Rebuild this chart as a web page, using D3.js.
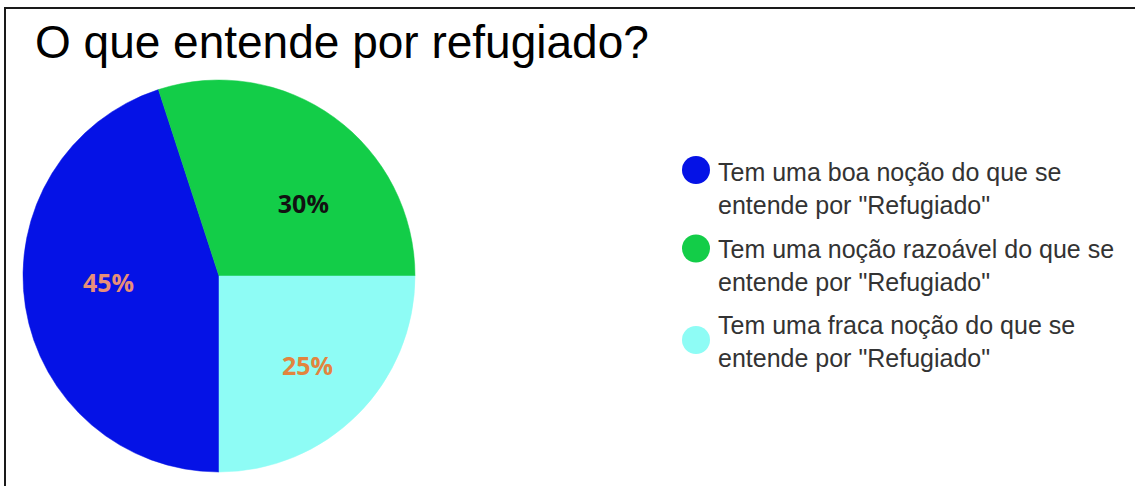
<!DOCTYPE html>
<html>
<head>
<meta charset="utf-8">
<script src="https://cdn.jsdelivr.net/npm/d3@7"></script>
<style>
  html, body { margin: 0; padding: 0; background: #fff; }
  svg { display: block; }
</style>
</head>
<body>
<svg id="chart" width="1135" height="486"></svg>
<script>
// Survey answers: "O que entende por refugiado?"
const categories = [
  'Tem uma boa noção do que se entende por "Refugiado"',
  'Tem uma noção razoável do que se entende por "Refugiado"',
  'Tem uma fraca noção do que se entende por "Refugiado"'
];
const legendLines = [
  ['Tem uma boa noção do que se', 'entende por "Refugiado"'],
  ['Tem uma noção razoável do que se', 'entende por "Refugiado"'],
  ['Tem uma fraca noção do que se', 'entende por "Refugiado"']
];
const values = [45, 30, 25];
const valueLabels = ['45%', '30%', '25%'];
const title = 'O que entende por refugiado?';

// Styling and layout
const sliceColors = ['#0512e6', '#13cd48', '#8efcf5'];
const labelColors = ['#e98f78', '#111111', '#e2843e'];
const labelNudge = [[6, -11], [15, 23], [5, 7]];
const swatchDy = [-11, -9, 6];

const svg = d3.select('#chart');

// Frame lines along top and left
svg.append('line').attr('x1', 5).attr('x2', 1135).attr('y1', 8).attr('y2', 8)
  .attr('stroke', '#1a1a1a').attr('stroke-width', 2);
svg.append('line').attr('x1', 5).attr('x2', 5).attr('y1', 7).attr('y2', 486)
  .attr('stroke', '#1a1a1a').attr('stroke-width', 2);

// Title
svg.append('text')
  .attr('x', 35).attr('y', 58)
  .attr('font-family', '"Liberation Sans", Arial, sans-serif')
  .attr('font-size', 46)
  .attr('fill', '#000')
  .text(title);

// Pie
const cx = 219, cy = 276, R = 196;
const color = d3.scaleOrdinal().domain(categories).range(sliceColors);
const pie = d3.pie().sort(null).value(d => d)
  .startAngle(Math.PI).endAngle(3 * Math.PI);
const arcs = pie(values);
const arc = d3.arc().innerRadius(0).outerRadius(R);
const labelArc = d3.arc().innerRadius(118).outerRadius(118);

const g = svg.append('g').attr('transform', `translate(${cx},${cy})`);
g.selectAll('path.slice')
  .data(arcs)
  .join('path')
  .attr('class', 'slice')
  .attr('d', arc)
  .attr('fill', (d, i) => color(categories[i]))
  .attr('stroke', (d, i) => color(categories[i]))
  .attr('stroke-width', 0.5);

g.selectAll('text.pct')
  .data(arcs)
  .join('text')
  .attr('class', 'pct')
  .attr('transform', (d, i) => {
    const [x, y] = labelArc.centroid(d);
    return `translate(${x + labelNudge[i][0]},${y + labelNudge[i][1]})`;
  })
  .attr('text-anchor', 'middle')
  .attr('dy', '0.36em')
  .attr('font-family', '"Open Sans", "DejaVu Sans", sans-serif')
  .attr('font-weight', 700)
  .attr('font-size', 25)
  .attr('fill', (d, i) => labelColors[i])
  .text((d, i) => valueLabels[i]);

// Legend
const legendX = 718, legendY0 = 181, itemStep = 76.5, lineStep = 33;
const legend = svg.append('g');
const items = legend.selectAll('g.item')
  .data(categories)
  .join('g')
  .attr('class', 'item')
  .attr('transform', (d, i) => `translate(0,${legendY0 + i * itemStep})`);

items.append('circle')
  .attr('cx', 696)
  .attr('cy', (d, i) => swatchDy[i])
  .attr('r', 14)
  .attr('fill', d => color(d));

items.each(function(d, i) {
  const t = d3.select(this).append('text')
    .attr('font-family', '"Liberation Sans", Arial, sans-serif')
    .attr('font-size', 25)
    .attr('fill', '#333');
  legendLines[i].forEach((line, j) => {
    t.append('tspan').attr('x', legendX).attr('y', j * lineStep).text(line);
  });
});
</script>
</body>
</html>
